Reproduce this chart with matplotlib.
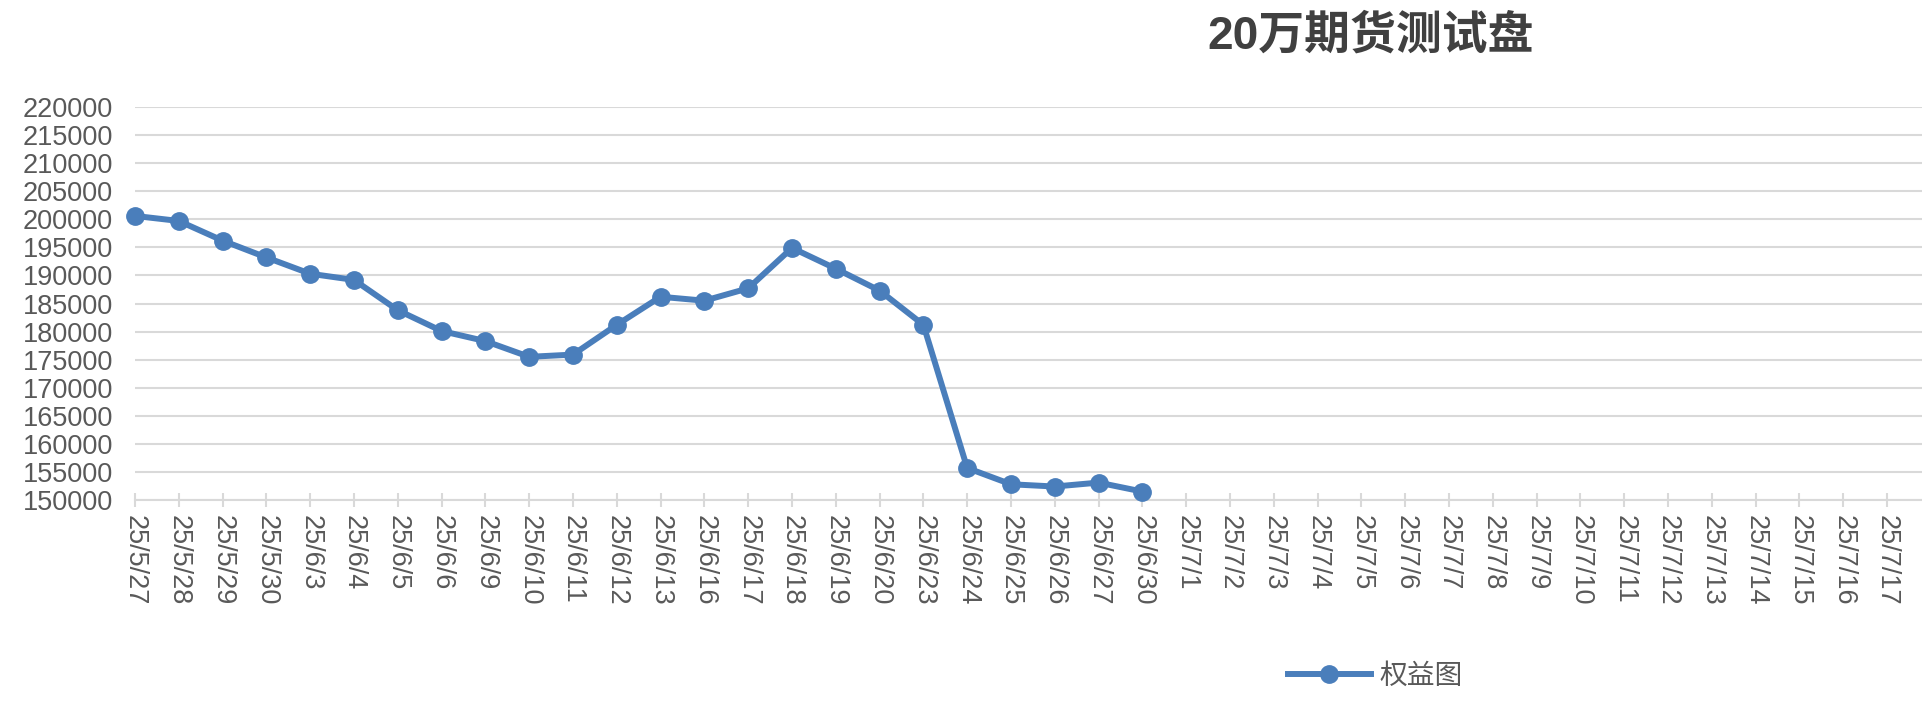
import matplotlib
matplotlib.use("Agg")
from matplotlib import pyplot as plt

plt.rcParams['font.family'] = ['Liberation Sans', 'Noto Sans CJK SC', 'DejaVu Sans']

# dates on the x axis (the last one is cut off at the right edge)
datas = ["25/5/27", "25/5/28", "25/5/29", "25/5/30", "25/6/3", "25/6/4", "25/6/5",
         "25/6/6", "25/6/9", "25/6/10", "25/6/11", "25/6/12", "25/6/13", "25/6/16",
         "25/6/17", "25/6/18", "25/6/19", "25/6/20", "25/6/23", "25/6/24", "25/6/25",
         "25/6/26", "25/6/27", "25/6/30", "25/7/1", "25/7/2", "25/7/3", "25/7/4",
         "25/7/5", "25/7/6", "25/7/7", "25/7/8", "25/7/9", "25/7/10", "25/7/11",
         "25/7/12", "25/7/13", "25/7/14", "25/7/15", "25/7/16", "25/7/17", "25/7/18"]

# equity values (only known up to 25/6/30)
patrimonio = [200600, 199700, 196200, 193200, 190300, 189200, 183800, 180100,
              178300, 175500, 175900, 181200, 186200, 185500, 187700, 194900,
              191200, 187300, 181200, 155700, 152800, 152400, 153100, 151500]

y_ticks = list(range(150000, 220001, 5000))

cinza = "#595959"
azul = "#4a7ebb"

fig = plt.figure(figsize=(19.22, 7.26), dpi=100)
passo = 43.8 / 1922
ax = fig.add_axes([135 / 1922, 1 - 500 / 726, 41.3 * passo, 393 / 726])

ax.plot(range(len(patrimonio)), patrimonio, color=azul, linewidth=4.3,
        marker="o", markersize=12.5, label="权益图", clip_on=False, zorder=3)

ax.set_xlim(0, 41.3)
ax.set_ylim(150000, 220000)
ax.set_yticks(y_ticks)
ax.set_yticklabels([str(v) for v in y_ticks], fontsize=19.5, color=cinza)
ax.set_xticks(range(len(datas)))
ax.set_xticklabels(datas, rotation=-90, fontsize=19.5, color=cinza)
ax.tick_params(axis="y", length=0, pad=16)
ax.tick_params(axis="x", length=10, width=1.5, color="#d9d9d9", direction="inout", pad=6)
ax.grid(axis="y", color="#d9d9d9", linewidth=1.5)
for lado in ["top", "right", "left"]:
  ax.spines[lado].set_visible(False)
ax.spines["bottom"].set_color("#d9d9d9")
ax.spines["bottom"].set_linewidth(1.5)

fig.text(1371 / 1922, 1 - 37 / 726, "20万期货测试盘", fontsize=33, fontweight="bold",
         color="#404040", ha="center", va="center")
fig.legend(loc="center", bbox_to_anchor=(1375 / 1922, 1 - 677 / 726), frameon=False,
           fontsize=20, labelcolor=cinza, handlelength=3, handletextpad=0.3)

fig.savefig("out.png", dpi=100)
